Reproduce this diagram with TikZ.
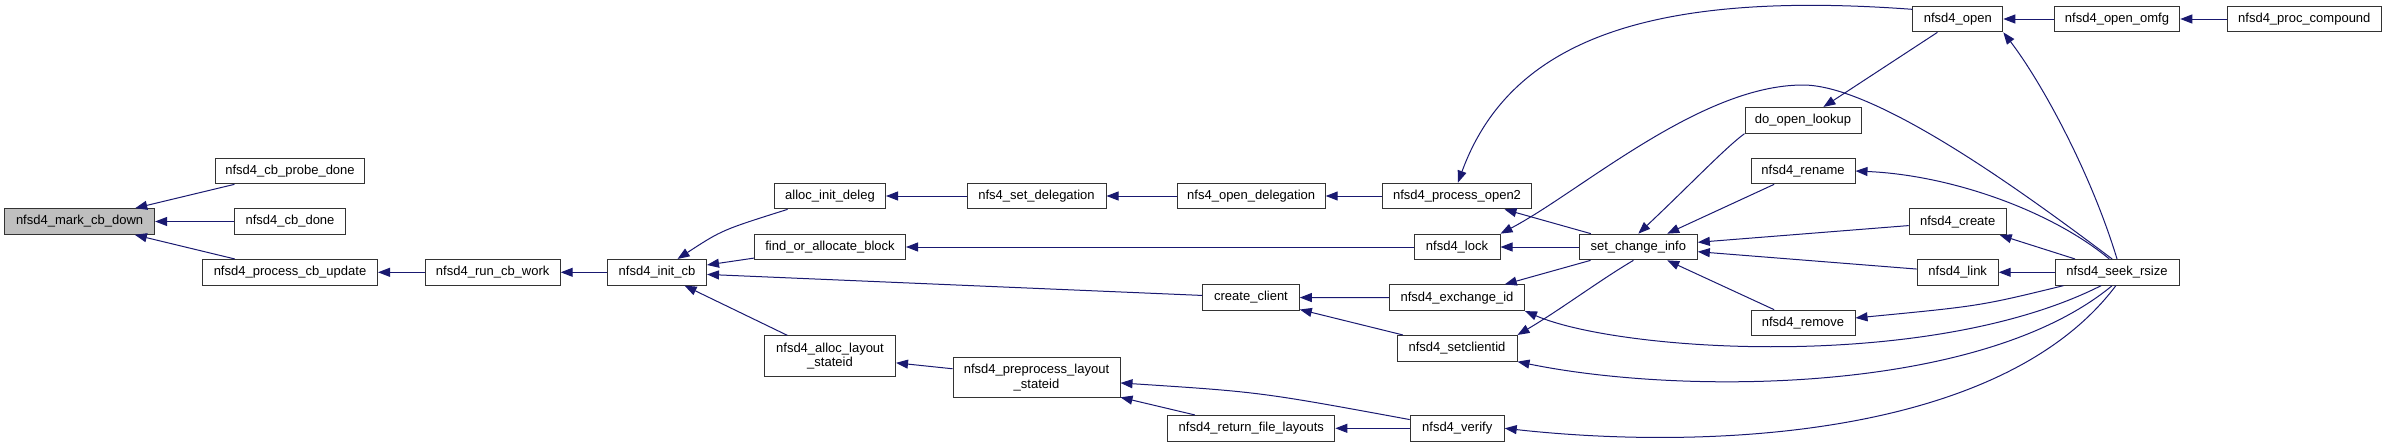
\documentclass[tikz,border=0pt]{standalone}
\usepackage{fontspec}
\setmainfont{Liberation Sans}
\usetikzlibrary{arrows.meta}
\definecolor{ink}{HTML}{191970}
\definecolor{boxline}{HTML}{333333}
\definecolor{marked}{HTML}{BFBFBF}
\tikzset{
  fnbox/.style={draw=boxline,fill=white,line width=1pt,inner sep=0pt,align=center,
    minimum height=25.7pt,font=\fontsize{13}{14.5}\selectfont},
  callarrow/.style={arrows={Triangle[length=12pt,width=9pt]-},line width=1pt,draw=ink}
}

\begin{document}
\begin{tikzpicture}[x=1pt,y=-1pt]
\useasboundingbox (0,0) rectangle (2387,447);
% callee on the left, callers to the right
\node[fnbox,fill=marked,minimum width=150pt] (mark) at (79.6,221.5) {nfsd4\_mark\_cb\_down};
\node[fnbox,minimum width=149.5pt] (probe) at (290,171) {nfsd4\_cb\_probe\_done};
\node[fnbox,minimum width=110.6pt] (cbdone) at (290,221.5) {nfsd4\_cb\_done};
\node[fnbox,minimum width=175pt] (cbupdate) at (290,272.3) {nfsd4\_process\_cb\_update};
\node[fnbox,minimum width=135pt] (runwork) at (492.7,272.3) {nfsd4\_run\_cb\_work};
\node[fnbox,minimum width=99pt] (initcb) at (657,272.3) {nfsd4\_init\_cb};
\node[fnbox,minimum width=111pt] (deleg) at (830,196) {alloc\_init\_deleg};
\node[fnbox,minimum width=151pt] (findblock) at (830,247) {find\_or\_allocate\_block};
\node[fnbox,minimum width=131pt,minimum height=40.3pt] (layoutid) at (830,356) {nfsd4\_alloc\_layout\\\_stateid};
\node[fnbox,minimum width=139pt] (setdeleg) at (1036.5,196) {nfs4\_set\_delegation};
\node[fnbox,minimum width=167pt,minimum height=39.7pt] (preproc) at (1036.5,377.5) {nfsd4\_preprocess\_layout\\\_stateid};
\node[fnbox,minimum width=148pt] (opendeleg) at (1251.2,196) {nfs4\_open\_delegation};
\node[fnbox,minimum width=96.6pt] (createcl) at (1251,297.5) {create\_client};
\node[fnbox,minimum width=167pt] (retlayouts) at (1251.3,428.3) {nfsd4\_return\_file\_layouts};
\node[fnbox,minimum width=149pt] (open2) at (1457,196) {nfsd4\_process\_open2};
\node[fnbox,minimum width=86pt] (lock) at (1457,247) {nfsd4\_lock};
\node[fnbox,minimum width=135pt] (exchid) at (1457,297.7) {nfsd4\_exchange\_id};
\node[fnbox,minimum width=120pt] (setclid) at (1457,348.3) {nfsd4\_setclientid};
\node[fnbox,minimum width=94pt] (verify) at (1457.2,428.3) {nfsd4\_verify};
\node[fnbox,minimum width=118pt] (changeinfo) at (1638.3,247) {set\_change\_info};
\node[fnbox,minimum width=116pt] (lookup) at (1803,120.3) {do\_open\_lookup};
\node[fnbox,minimum width=104pt] (rename) at (1803,171) {nfsd4\_rename};
\node[fnbox,minimum width=104pt] (remove) at (1803,323) {nfsd4\_remove};
\node[fnbox,minimum width=90pt] (nopen) at (1957.8,19) {nfsd4\_open};
\node[fnbox,minimum width=97pt] (create) at (1957.7,221.7) {nfsd4\_create};
\node[fnbox,minimum width=81pt] (link) at (1957.7,272.3) {nfsd4\_link};
\node[fnbox,minimum width=125.5pt] (openomfg) at (2117,19) {nfsd4\_open\_omfg};
\node[fnbox,minimum width=124pt] (seekrsize) at (2117,272.3) {nfsd4\_seek\_rsize};
\node[fnbox,minimum width=154pt] (proccompound) at (2304.3,19) {nfsd4\_proc\_compound};

% straight calls
\draw[callarrow] (mark) -- (probe);
\draw[callarrow] (mark) -- (cbdone);
\draw[callarrow] (mark) -- (cbupdate);
\draw[callarrow] (cbupdate) -- (runwork);
\draw[callarrow] (runwork) -- (initcb);
\draw[callarrow] (initcb) .. controls (722,230) .. (deleg);
\draw[callarrow] (initcb) -- (findblock);
\draw[callarrow] (initcb) -- (createcl);
\draw[callarrow] (initcb) -- (layoutid);
\draw[callarrow] (deleg) -- (setdeleg);
\draw[callarrow] (setdeleg) -- (opendeleg);
\draw[callarrow] (opendeleg) -- (open2);
\draw[callarrow] (findblock) -- (lock);
\draw[callarrow] (layoutid) -- (preproc);
\draw[callarrow] (preproc) .. controls (1260,392) .. (verify);
\draw[callarrow] (preproc) -- (retlayouts);
\draw[callarrow] (retlayouts) -- (verify);
\draw[callarrow] (createcl) -- (exchid);
\draw[callarrow] (createcl) -- (setclid);
\draw[callarrow] (open2) -- (changeinfo);
\draw[callarrow] (lock) -- (changeinfo);
\draw[callarrow] (exchid) -- (changeinfo);
\draw[callarrow] (changeinfo) -- (rename);
\draw[callarrow] (changeinfo) -- (create);
\draw[callarrow] (changeinfo) -- (link);
\draw[callarrow] (changeinfo) -- (remove);
\draw[callarrow] (lookup) -- (nopen);
\draw[callarrow] (nopen) -- (openomfg);
\draw[callarrow] (openomfg) -- (proccompound);
\draw[callarrow] (create) -- (seekrsize);
\draw[callarrow] (link) -- (seekrsize);
\draw[callarrow] (remove) .. controls (1980,306) .. (seekrsize.194);

% curved calls
\draw[callarrow] (open2.86) .. controls (1510,40) and (1650,-10) .. (nopen.168);
\draw[callarrow] (lock.north east) .. controls (1580,192) and (1700,85) .. (1803,85)
  .. controls (1880,85) and (2040,205) .. (seekrsize.110);
\draw[callarrow] (setclid.north east) .. controls (1560,310) and (1600,280) .. (changeinfo.250);
\draw[callarrow] (exchid.south east) .. controls (1620,352) and (1930,372) .. (seekrsize.220);
\draw[callarrow] (setclid.south east) .. controls (1680,395) and (1980,395) .. (seekrsize.250);
\draw[callarrow] (verify.east) .. controls (1700,450) and (2000,440) .. (seekrsize.265);
\draw[callarrow] (changeinfo.north) .. controls (1690,185) and (1725,148) .. (lookup.south west);
\draw[callarrow] (nopen.south east) .. controls (2040,80) and (2090,170) .. (seekrsize.north);
\draw[callarrow] (rename.east) .. controls (1950,175) and (2050,210) .. (seekrsize.120);
\end{tikzpicture}
\end{document}
